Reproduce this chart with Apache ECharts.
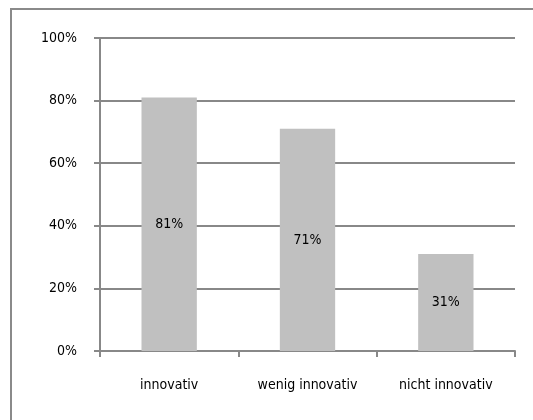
<!DOCTYPE html>
<html>
<head>
<meta charset="utf-8">
<script src="https://cdn.jsdelivr.net/npm/echarts@6/dist/echarts.min.js"></script>
<style>
html,body{margin:0;padding:0;background:#fff;}
#frame{position:absolute;left:10px;top:8px;width:523px;height:412px;border-top:2px solid #8a8a8a;border-left:2px solid #8a8a8a;box-sizing:border-box;}
#chart{position:absolute;left:0;top:0;width:533px;height:420px;}
</style>
</head>
<body>
<div id="frame"></div>
<div id="chart"></div>
<script>
var categories = ['innovativ', 'wenig innovativ', 'nicht innovativ'];
var values = [81, 71, 31];
var yTicks = [0, 20, 40, 60, 80, 100];

var FONT = '"DejaVu Sans Condensed", "Liberation Sans Narrow", sans-serif';
var chart = echarts.init(document.getElementById('chart'), null, {renderer: 'canvas'});
chart.setOption({
  animation: false,
  grid: {left: 100, right: 18, top: 38, bottom: 69, containLabel: false},
  xAxis: {
    type: 'category',
    data: categories,
    axisLine: {lineStyle: {color: '#888888', width: 2}},
    axisTick: {show: true, interval: 0, length: 6, lineStyle: {color: '#888888', width: 2}},
    axisLabel: {color: '#000', fontFamily: FONT, fontSize: 14, margin: 27, interval: 0}
  },
  yAxis: {
    type: 'value',
    min: 0, max: 100, interval: 20,
    axisLine: {show: true, lineStyle: {color: '#888888', width: 2}},
    axisTick: {show: true, length: 6, lineStyle: {color: '#888888', width: 2}},
    splitLine: {show: true, lineStyle: {color: '#888888', width: 2}},
    axisLabel: {
      color: '#000', fontFamily: FONT, fontSize: 14, margin: 23,
      formatter: function (v) { return yTicks.indexOf(v) >= 0 ? v + '%' : ''; }
    }
  },
  series: [{
    type: 'bar',
    data: values,
    barWidth: '40%',
    itemStyle: {color: '#c0c0c0'},
    label: {
      show: true, position: 'inside', color: '#000',
      fontFamily: FONT, fontSize: 14,
      formatter: function (p) { return p.value + '%'; }
    }
  }]
});
</script>
</body>
</html>
